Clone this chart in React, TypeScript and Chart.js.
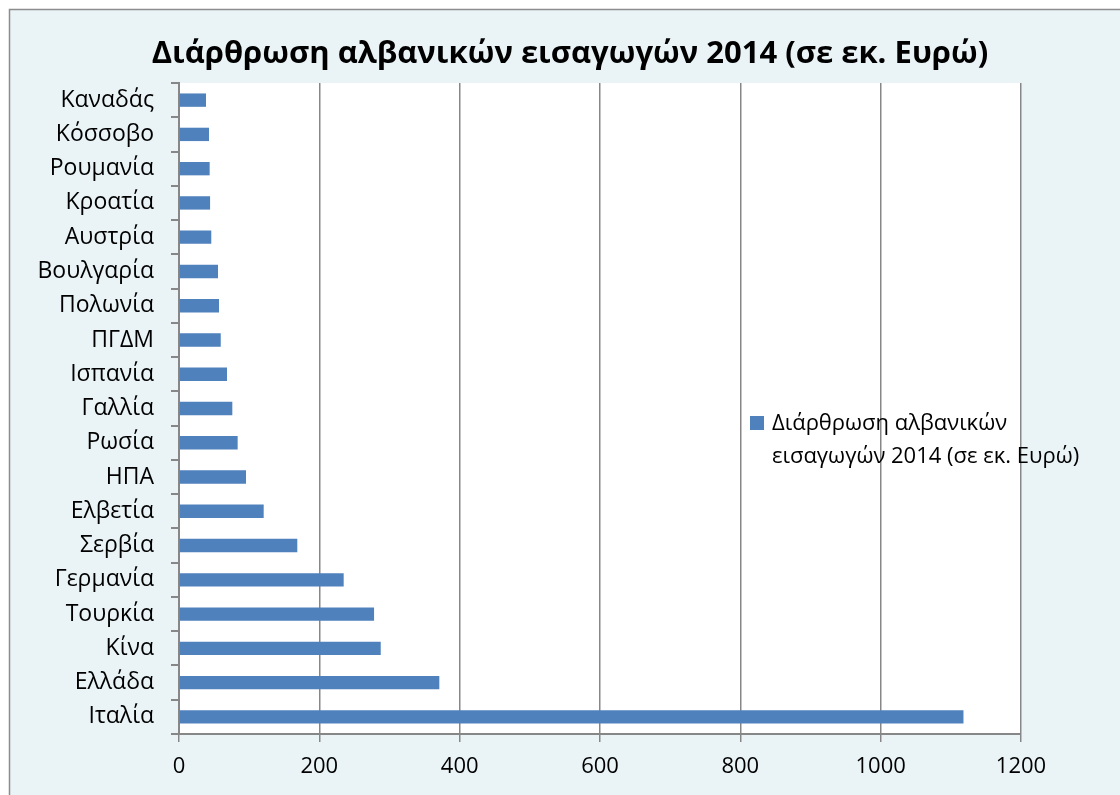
import React, { useEffect, useRef } from "react";
import { Chart, registerables } from "chart.js";

Chart.register(...registerables);

const TITLE = "Διάρθρωση αλβανικών εισαγωγών 2014 (σε εκ. Ευρώ)";
const SERIES_LABEL = "Διάρθρωση αλβανικών εισαγωγών 2014 (σε εκ. Ευρώ)";
const LEGEND_LINES = ["Διάρθρωση αλβανικών", "εισαγωγών 2014 (σε εκ. Ευρώ)"];
const CATEGORIES = [
  "Καναδάς", "Κόσσοβο", "Ρουμανία", "Κροατία", "Αυστρία", "Βουλγαρία",
  "Πολωνία", "ΠΓΔΜ", "Ισπανία", "Γαλλία", "Ρωσία", "ΗΠΑ", "Ελβετία",
  "Σερβία", "Γερμανία", "Τουρκία", "Κίνα", "Ελλάδα", "Ιταλία",
];
const VALUES = [
  38.5, 42.8, 43.7, 44.3, 46, 55.6, 57, 59.5, 68.4, 76, 83.6, 95.5, 120.7,
  168.6, 234.7, 278, 287.5, 371, 1118,
];
const X_MIN = 0;
const X_MAX = 1200;
const X_STEP = 200;

const FONT = "'Open Sans', 'Noto Sans', sans-serif";
const BG = "#EAF4F7";
const GRID = "#878787";
const BAR = "#4F81BD";

const decorPlugin = {
  id: "decor",
  beforeDraw(chart: any) {
    const { ctx, width, height, chartArea } = chart;
    ctx.save();
    ctx.fillStyle = "#ffffff";
    ctx.fillRect(0, 0, width, height);
    ctx.fillStyle = BG;
    ctx.fillRect(9, 9, width, height);
    ctx.strokeStyle = "#8c8c8c";
    ctx.lineWidth = 1.5;
    ctx.beginPath();
    ctx.moveTo(9.5, height + 5);
    ctx.lineTo(9.5, 9.5);
    ctx.lineTo(width + 5, 9.5);
    ctx.stroke();
    ctx.fillStyle = "#ffffff";
    ctx.fillRect(chartArea.left, chartArea.top, chartArea.right - chartArea.left, chartArea.bottom - chartArea.top);
    ctx.fillStyle = "#000";
    ctx.font = `bold 31px ${FONT}`;
    ctx.textAlign = "center";
    ctx.textBaseline = "middle";
    ctx.fillText(TITLE, 570, 54);
    ctx.restore();
  },
  afterDraw(chart: any) {
    const { ctx } = chart;
    ctx.save();
    ctx.fillStyle = BAR;
    ctx.fillRect(750, 416, 14, 14);
    ctx.fillStyle = "#000";
    ctx.font = `22px ${FONT}`;
    ctx.textAlign = "left";
    ctx.textBaseline = "middle";
    LEGEND_LINES.forEach((l, i) => ctx.fillText(l, 772, 424 + i * 33));
    ctx.restore();
  },
};

export default function App() {
  const ref = useRef<HTMLCanvasElement>(null);
  useEffect(() => {
    if (!ref.current) return;
    const chart = new Chart(ref.current, {
      type: "bar",
      data: {
        labels: CATEGORIES,
        datasets: [
          {
            label: SERIES_LABEL,
            data: VALUES,
            backgroundColor: BAR,
            borderWidth: 0,
            barPercentage: 0.39,
            categoryPercentage: 1,
          },
        ],
      },
      options: {
        indexAxis: "y",
        animation: false,
        responsive: false,
        maintainAspectRatio: false,
        layout: { padding: { top: 83, right: 99, left: 0, bottom: 0 } },
        plugins: {
          legend: { display: false },
          title: { display: false },
          tooltip: { enabled: false },
        },
        scales: {
          x: {
            min: X_MIN,
            max: X_MAX,
            ticks: {
              stepSize: X_STEP,
              color: "#000",
              font: { family: FONT, size: 22 },
              padding: 12,
              callback: (v: any) => String(v),
            },
            grid: {
              color: GRID,
              lineWidth: 1.5,
              tickLength: 8,
              drawTicks: true,
            },
            border: { display: true, color: GRID, width: 2 },
            afterFit(scale: any) {
              scale.height = 61;
            },
          },
          y: {
            ticks: {
              color: "#000",
              font: { family: FONT, size: 23 },
              padding: 17,
            },
            grid: {
              color: GRID,
              lineWidth: 2,
              tickLength: 8,
              drawOnChartArea: false,
              drawTicks: true,
              offset: true,
            },
            border: { display: true, color: GRID, width: 2 },
            afterFit(scale: any) {
              scale.width = 179;
            },
          },
        },
      },
      plugins: [decorPlugin],
    });
    return () => chart.destroy();
  }, []);
  return (
    <div style={{ position: "fixed", left: 0, top: 0, width: 1120, height: 795 }}>
      <canvas ref={ref} width={1120} height={795} style={{ display: "block" }} />
    </div>
  );
}
